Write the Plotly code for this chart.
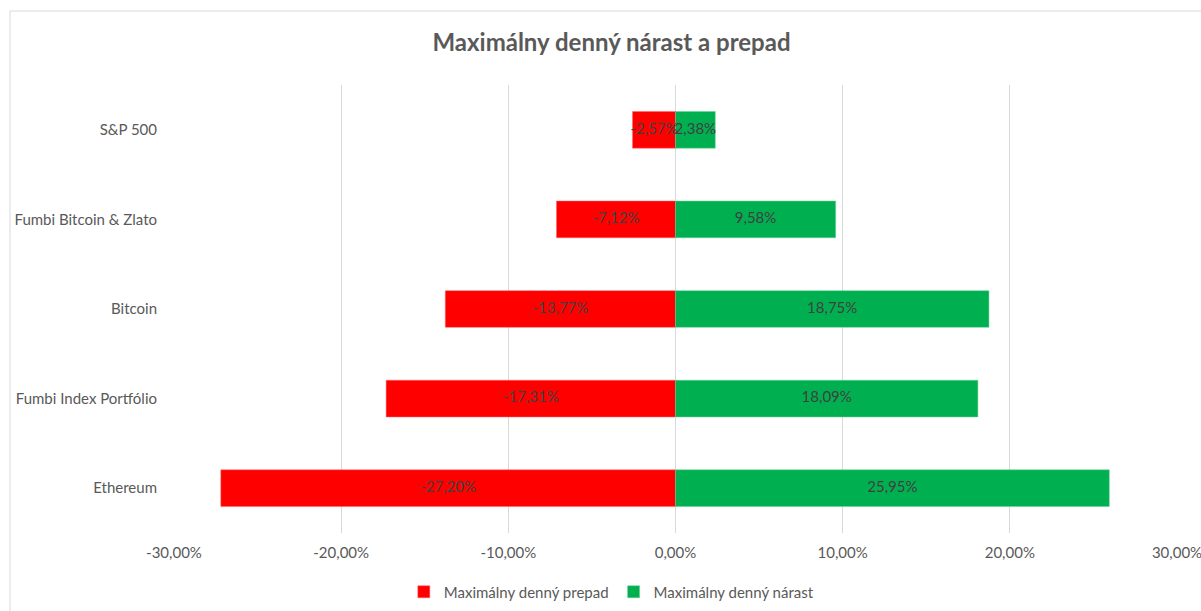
import plotly.graph_objects as go

categories = ["S&P 500", "Fumbi Bitcoin & Zlato", "Bitcoin", "Fumbi Index Portfólio", "Ethereum"]
prepad = [-0.0257, -0.0712, -0.1377, -0.1731, -0.2720]
narast = [0.0238, 0.0958, 0.1875, 0.1809, 0.2595]
x_ticks = [-0.3, -0.2, -0.1, 0.0, 0.1, 0.2, 0.3]
x_ticktext = ["-30,00%", "-20,00%", "-10,00%", "0,00%", "10,00%", "20,00%", "30,00%"]


def fmt(v):
    return f"{v * 100:.2f}%".replace(".", ",")


FONT = "Lato"
GRAY = "#595959"
LABEL = "#404040"

fig = go.Figure()
fig.add_trace(go.Bar(
    y=categories, x=prepad, orientation="h", name="Maximálny denný prepad",
    marker=dict(color="#FF0000", line=dict(color="#FF6666", width=0.5)),
    width=0.41, hoverinfo="x+y",
))
fig.add_trace(go.Bar(
    y=categories, x=narast, orientation="h", name="Maximálny denný nárast",
    marker=dict(color="#00B050", line=dict(color="#66D096", width=0.5)),
    width=0.41, hoverinfo="x+y",
))
# data labels centred in each bar
fig.add_trace(go.Scatter(
    y=categories, x=[v / 2 for v in prepad], mode="text",
    text=[fmt(v) for v in prepad], textposition="middle center",
    textfont=dict(color=LABEL, size=15, family=FONT),
    showlegend=False, hoverinfo="skip", cliponaxis=False,
))
fig.add_trace(go.Scatter(
    y=categories, x=[v / 2 for v in narast], mode="text",
    text=[fmt(v) for v in narast], textposition="middle center",
    textfont=dict(color=LABEL, size=15, family=FONT),
    showlegend=False, hoverinfo="skip", cliponaxis=False,
))

fig.update_layout(
    width=1201, height=611,
    barmode="relative",
    paper_bgcolor="white", plot_bgcolor="white",
    margin=dict(l=174, r=24, t=85, b=78, autoexpand=False),
    font=dict(family=FONT, color=GRAY, size=15),
    title=dict(text="<b>Maximálny denný nárast a prepad</b>", x=611.5 / 1201, xref="container",
               xanchor="center", y=1 - 43 / 611, yref="container", yanchor="middle",
               font=dict(size=24, color=GRAY, family=FONT)),
    xaxis=dict(range=[-0.3, 0.3], tickvals=x_ticks, ticktext=x_ticktext,
               showgrid=True, gridcolor="#D9D9D9", gridwidth=1,
               zeroline=True, zerolinecolor="#D9D9D9", zerolinewidth=1,
               showline=False, ticks="", ticklabelstandoff=9, ticklabeloverflow="allow",
               tickfont=dict(size=15, color=GRAY), automargin=False),
    yaxis=dict(autorange="reversed", showgrid=False, showline=False, ticks="",
               ticklabelstandoff=16, tickfont=dict(size=15, color=GRAY), automargin=False),
    legend=dict(orientation="h", x=0.436, xanchor="center", y=(611 - 592) / 611,
                yref="container", yanchor="middle",
                font=dict(size=15, color=GRAY), traceorder="normal"),
    showlegend=True,
)

fig.add_shape(type="rect", xref="paper", yref="paper",
              x0=(10 - 174) / 1003, x1=(1220 - 174) / 1003,
              y0=-(640 - 533) / 448, y1=1 + (85 - 11) / 448,
              line=dict(color="#D9D9D9", width=1), fillcolor="rgba(0,0,0,0)", layer="below")

fig.write_html("out.html", config={"displayModeBar": False},
               post_script="document.body.style.margin='0';document.body.style.overflow='hidden';")
